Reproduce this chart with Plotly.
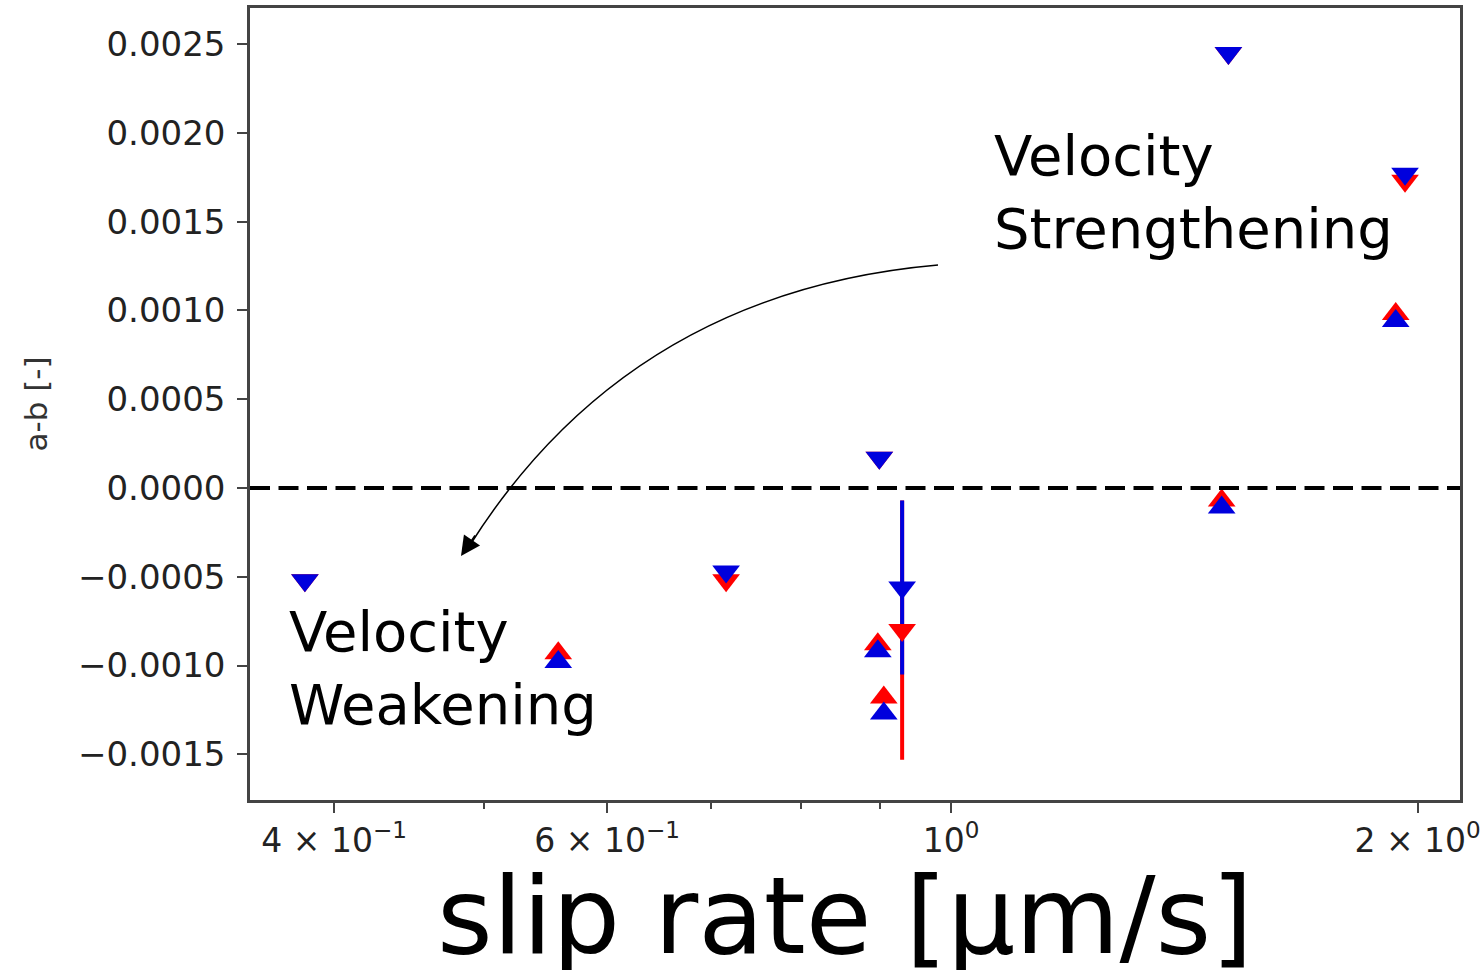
import plotly.graph_objects as go
import numpy as np

# ---- data ----
down_x = [0.383, 0.716, 0.899, 1.51, 1.963]
down_red = [-0.00052, -0.00052, 0.00017, 0.00245, 0.00173]
down_blue = [-0.00052, -0.00047, 0.00017, 0.00245, 0.00177]

up_x = [0.558, 0.897, 0.905, 1.495, 1.936]
up_red = [-0.00093, -0.00088, -0.00118, -0.00007, 0.00098]
up_blue = [-0.00098, -0.00092, -0.00127, -0.00011, 0.00094]

err_x = [0.930]
err_red = [-0.00080]
err_red_e = [0.00073]
err_blue = [-0.00056]
err_blue_e = [0.00049]

x_tickvals = [0.4, 0.6, 1.0, 2.0]
x_ticktext = ["4 × 10<sup>−1</sup>", "6 × 10<sup>−1</sup>", "10<sup>0</sup>", "2 × 10<sup>0</sup>"]
x_minor = [0.5, 0.7, 0.8, 0.9]
y_tickvals = [-0.0015, -0.0010, -0.0005, 0.0, 0.0005, 0.0010, 0.0015, 0.0020, 0.0025]
y_ticktext = ["−0.0015", "−0.0010", "−0.0005", "0.0000", "0.0005", "0.0010", "0.0015", "0.0020", "0.0025"]
x_title = "slip rate [μm/s]"
y_title = "a-b [-]"

RED = "#ff0000"
BLUE = "#0000dd"
FONT = "DejaVu Sans"
MS = 24

fig = go.Figure()

# error bars: red first, blue over it
for xs, ys, es, col in [(err_x, err_red, err_red_e, RED), (err_x, err_blue, err_blue_e, BLUE)]:
    fig.add_trace(go.Scatter(
        x=xs, y=ys, mode="markers",
        marker=dict(size=1, color=col, opacity=0),
        error_y=dict(type="data", array=es, visible=True, color=col, thickness=4, width=0),
        showlegend=False, hoverinfo="skip"))

# markers: red then blue
fig.add_trace(go.Scatter(x=down_x, y=down_red, mode="markers",
                         marker=dict(symbol="triangle-down", size=MS, color=RED), showlegend=False))
fig.add_trace(go.Scatter(x=up_x, y=up_red, mode="markers",
                         marker=dict(symbol="triangle-up", size=MS, color=RED), showlegend=False))
fig.add_trace(go.Scatter(x=err_x, y=err_red, mode="markers",
                         marker=dict(symbol="triangle-down", size=MS, color=RED), showlegend=False))
fig.add_trace(go.Scatter(x=down_x, y=down_blue, mode="markers",
                         marker=dict(symbol="triangle-down", size=MS, color=BLUE), showlegend=False))
fig.add_trace(go.Scatter(x=up_x, y=up_blue, mode="markers",
                         marker=dict(symbol="triangle-up", size=MS, color=BLUE), showlegend=False))
fig.add_trace(go.Scatter(x=err_x, y=err_blue, mode="markers",
                         marker=dict(symbol="triangle-down", size=MS, color=BLUE), showlegend=False))

# zero line
fig.add_shape(type="line", xref="paper", x0=0, x1=1, yref="y", y0=0, y1=0,
              line=dict(color="black", width=4, dash="20px,8.5px"))

# curved arrow (paper coords)
L, R, T, B = 250, 1460, 8, 800
def px(xp):
    return (xp - L) / (R - L)
def py(yp):
    return (B - yp) / (B - T)
p0 = (938, 265); c = (630, 292); p2 = (470, 545)
fig.add_shape(type="path", xref="paper", yref="paper",
              path=f"M {px(p0[0])},{py(p0[1])} Q {px(c[0])},{py(c[1])} {px(p2[0])},{py(p2[1])}",
              line=dict(color="black", width=1.5))
fig.add_annotation(xref="paper", yref="paper", x=px(461), y=py(556), text="",
                   showarrow=True, arrowhead=2, arrowsize=2.6, arrowwidth=1.5, arrowcolor="black",
                   ax=15, ay=-22)

# text annotations
fig.add_annotation(xref="paper", yref="paper", x=px(992), y=py(121), xanchor="left", yanchor="top",
                   align="left", showarrow=False, text="Velocity<br>Strengthening",
                   font=dict(family=FONT, size=56, color="black"))
fig.add_annotation(xref="paper", yref="paper", x=px(287), y=py(597), xanchor="left", yanchor="top",
                   align="left", showarrow=False, text="Velocity<br>Weakening",
                   font=dict(family=FONT, size=56, color="black"))

# x-axis title placed as an annotation for exact position
fig.add_annotation(xref="paper", yref="paper", x=px(845), y=py(852), xanchor="center", yanchor="top",
                   showarrow=False, text=x_title,
                   font=dict(family=FONT, size=107, color="black"))

axis_common = dict(showgrid=False, zeroline=False, showline=True, linecolor="#444", linewidth=2.5,
                   mirror=True, ticks="outside", tickcolor="#444", tickwidth=2, ticklen=10,
                   automargin=False)

fig.update_xaxes(type="log", range=[np.log10(0.353), np.log10(2.13)],
                 tickmode="array", tickvals=x_tickvals, ticktext=x_ticktext,
                 tickfont=dict(family=FONT, size=33, color="#222"),
                 minor=dict(tickmode="array", tickvals=x_minor, ticks="outside", ticklen=6,
                            tickcolor="#444", tickwidth=1.5),
                 **axis_common)
fig.update_yaxes(range=[-0.001757, 0.002703], tickmode="array", tickvals=y_tickvals, ticktext=y_ticktext,
                 tickfont=dict(family=FONT, size=34, color="#222"), ticklabelstandoff=5,
                 title=dict(text=y_title, font=dict(family=FONT, size=31, color="#333"), standoff=22),
                 **axis_common)

fig.update_layout(width=1481, height=970, margin=dict(l=L, r=1481 - R, t=T, b=970 - B),
                  paper_bgcolor="white", plot_bgcolor="white", showlegend=False)

fig.write_html("out.html", config={"displayModeBar": False},
               post_script="document.body.style.margin='0';")
